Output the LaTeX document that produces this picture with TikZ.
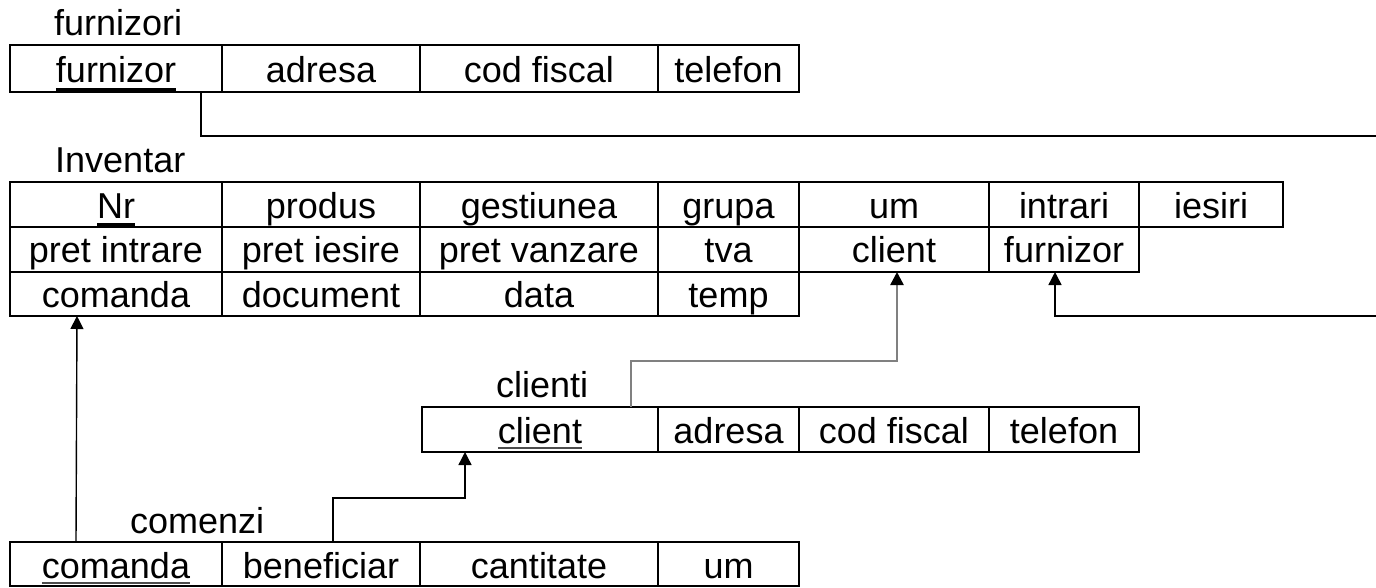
\documentclass[tikz,border=0pt]{standalone}
\usepackage{fontspec}
\setmainfont{Liberation Sans}
\usetikzlibrary{arrows.meta}

% key field: text with a rule below it (offset, thickness, colour)
\newcommand\keyfield[4]{\setbox0=\hbox{#1}\rlap{\color{#4}\rule[#2]{\wd0}{#3}}\box0}

\tikzset{
  cell/.style={draw=black, line width=1.6pt, rectangle, inner sep=0pt, outer sep=0pt,
    anchor=north west, align=center, font=\fontsize{36}{43}\selectfont},
  rowA/.style={cell, minimum height=47pt, text height=37pt, text depth=10pt},
  rowB/.style={cell, minimum height=45pt, text height=36pt, text depth=9pt},
  rowC/.style={cell, minimum height=45pt, text height=35pt, text depth=10pt},
  rowD/.style={cell, minimum height=44pt, text height=35pt, text depth=9pt},
  rowE/.style={cell, minimum height=44pt, text height=36pt, text depth=8pt},
  title/.style={anchor=base west, inner sep=0pt, font=\fontsize{36}{43}\selectfont},
  link/.style={draw=black, line width=1.4pt},
  greylink/.style={draw=black!50, line width=2.4pt},
  tip/.style={-{Triangle[width=13pt,length=13pt,fill=black,color=black]}}
}

\begin{document}
\begin{tikzpicture}[x=1pt,y=-1pt]
\useasboundingbox (0,0) rectangle (1376,587);
\clip (0,0) rectangle (1376,587);

% table furnizori
\node[title] (tfz) at (54,35) {furnizori};
\node[rowA, minimum width=212pt] (fz1) at (10,45) {\keyfield{furnizor}{-9pt}{3.5pt}{black}};
\node[rowA, minimum width=198pt] (fz2) at (222,45) {adresa};
\node[rowA, minimum width=238pt] (fz3) at (420,45) {cod fiscal};
\node[rowA, minimum width=141pt] (fz4) at (658,45) {telefon};

% table Inventar
\node[title] (tin) at (55,172) {Inventar};
\node[rowB, minimum width=212pt] (i1a) at (10,182) {\keyfield{Nr}{-7.5pt}{3pt}{black}};
\node[rowB, minimum width=198pt] (i1b) at (222,182) {produs};
\node[rowB, minimum width=238pt] (i1c) at (420,182) {gestiunea};
\node[rowB, minimum width=141pt] (i1d) at (658,182) {grupa};
\node[rowB, minimum width=190pt] (i1e) at (799,182) {um};
\node[rowB, minimum width=150pt] (i1f) at (989,182) {intrari};
\node[rowB, minimum width=144pt] (i1g) at (1139,182) {iesiri};

\node[rowC, minimum width=212pt] (i2a) at (10,227) {pret intrare};
\node[rowC, minimum width=198pt] (i2b) at (222,227) {pret iesire};
\node[rowC, minimum width=238pt] (i2c) at (420,227) {pret vanzare};
\node[rowC, minimum width=141pt] (i2d) at (658,227) {tva};
\node[rowC, minimum width=190pt] (i2e) at (799,227) {client};
\node[rowC, minimum width=150pt] (i2f) at (989,227) {furnizor};

\node[rowD, minimum width=212pt] (i3a) at (10,272) {comanda};
\node[rowD, minimum width=198pt] (i3b) at (222,272) {document};
\node[rowD, minimum width=238pt] (i3c) at (420,272) {data};
\node[rowD, minimum width=141pt] (i3d) at (658,272) {temp};

% table clienti
\node[title] (tcl) at (496,397) {clienti};
\node[rowB, minimum width=236pt] (cl1) at (422,407) {\keyfield{client}{-6pt}{1.6pt}{black!70}};
\node[rowB, minimum width=141pt] (cl2) at (658,407) {adresa};
\node[rowB, minimum width=190pt] (cl3) at (799,407) {cod fiscal};
\node[rowB, minimum width=150pt] (cl4) at (989,407) {telefon};

% table comenzi
\node[title] (tcm) at (130,533) {comenzi};
\node[rowE, minimum width=212pt] (cm1) at (10,542) {\keyfield{comanda}{-5.8pt}{1.6pt}{black!70}};
\node[rowE, minimum width=198pt] (cm2) at (222,542) {beneficiar};
\node[rowE, minimum width=238pt] (cm3) at (420,542) {cantitate};
\node[rowE, minimum width=141pt] (cm4) at (658,542) {um};

% foreign keys
\draw[link, tip] ([xshift=191pt]fz1.south west) |- (1380,136) -- (1380,316)
  -| ([xshift=66pt]i2f.south west);
\draw[greylink, tip] ([xshift=209pt]cl1.north west) -- ++(0,-46)
  -| ([xshift=98pt]i2e.south west);
\draw[link, tip] ([xshift=66pt]cm1.north west) -- ([xshift=67pt]i3a.south west);
\draw[link, tip] ([xshift=111pt]cm2.north west) -- ++(0,-44)
  -| ([xshift=43pt]cl1.south west);
\end{tikzpicture}
\end{document}
